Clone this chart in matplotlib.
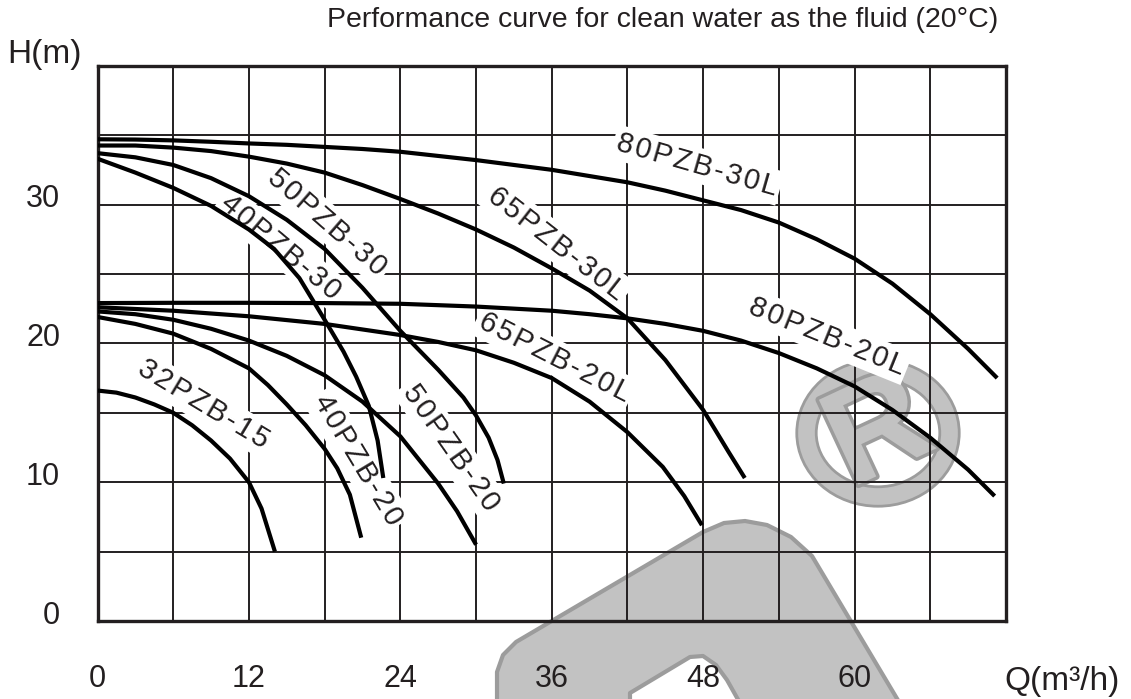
import matplotlib
matplotlib.use("Agg")
import matplotlib.pyplot as plt
import matplotlib.patheffects as pe
from matplotlib.patches import Ellipse, Polygon
from matplotlib.transforms import ScaledTranslation

plt.rcParams['font.family'] = ['Liberation Sans', 'DejaVu Sans']

# pump curves: Q in m3/h, H in m
q_32pzb_15 = [0, 1.5, 3, 4.5, 6, 7.5, 9, 10.5, 12, 13, 14.06]
h_32pzb_15 = [16.6, 16.45, 16.1, 15.6, 15.0, 14.1, 13.0, 11.7, 10.0, 8.1, 5.0]

q_40pzb_20 = [0, 3, 6, 9, 12, 13.5, 15, 16.5, 18, 19, 20, 20.9]
h_40pzb_20 = [21.9, 21.4, 20.7, 19.6, 18.2, 17.0, 15.6, 14.1, 12.4, 11.0, 9.1, 6.0]

q_50pzb_20 = [0, 3, 6, 9, 12, 15, 18, 21, 24, 27, 28.5, 30]
h_50pzb_20 = [22.3, 22.1, 21.7, 21.05, 20.2, 19.1, 17.7, 15.8, 13.3, 9.9, 7.9, 5.5]

q_65pzb_20l = [0, 6, 12, 18, 24, 27, 30, 33, 36, 39, 42, 44.8, 46.5, 47.9]
h_65pzb_20l = [22.6, 22.35, 21.95, 21.4, 20.6, 20.1, 19.5, 18.6, 17.5, 15.8, 13.6, 11.1, 9.0, 6.9]

q_80pzb_20l = [0, 6, 12, 18, 24, 27, 30, 33, 36, 39, 42, 45, 48, 51, 54, 57, 60, 63, 66, 69, 71.1]
h_80pzb_20l = [22.9, 22.92, 22.92, 22.9, 22.85, 22.75, 22.65, 22.5, 22.35, 22.1, 21.8, 21.4, 20.9,
               20.2, 19.3, 18.2, 16.9, 15.2, 13.2, 10.9, 9.0]

q_40pzb_30 = [0, 3, 6, 9, 12, 14, 16, 18, 19.5, 20.5, 21.5, 22.2, 22.65]
h_40pzb_30 = [33.3, 32.3, 31.2, 29.9, 28.2, 26.8, 24.7, 21.7, 19.4, 17.6, 15.5, 13.0, 10.3]

q_50pzb_30 = [0, 3, 6, 9, 12, 15, 18, 21, 24, 27, 29, 30, 31, 31.7, 32.2]
h_50pzb_30 = [33.7, 33.4, 32.85, 31.9, 30.6, 28.9, 26.8, 24.0, 20.9, 18.1, 16.1, 14.8, 13.2, 11.6, 9.9]

q_65pzb_30l = [0, 3, 6, 9, 12, 15, 18, 21, 24, 27, 30, 33, 36, 39, 42, 45, 48, 50, 51.3]
h_65pzb_30l = [34.25, 34.25, 34.1, 33.85, 33.45, 32.95, 32.3, 31.4, 30.4, 29.35, 28.2, 26.9,
               25.4, 23.8, 21.8, 18.8, 15.2, 12.2, 10.3]

q_80pzb_30l = [0, 3, 6, 9, 12, 15, 18, 21, 24, 27, 30, 33, 36, 39, 42, 45, 48, 51, 54, 57, 60,
               63, 66, 69, 71.3]
h_80pzb_30l = [34.7, 34.68, 34.62, 34.52, 34.4, 34.3, 34.15, 34.0, 33.8, 33.5, 33.2, 32.85, 32.5,
               32.05, 31.6, 31.0, 30.3, 29.6, 28.7, 27.5, 26.1, 24.3, 22.1, 19.6, 17.5]

# label text, position (Q, H) and angle on screen
curve_names = ['32PZB-15', '40PZB-20', '50PZB-20', '65PZB-20L', '80PZB-20L',
               '40PZB-30', '50PZB-30', '65PZB-30L', '80PZB-30L']
label_q = [8.4, 20.6, 28.0, 36.2, 57.8, 14.5, 18.2, 36.4, 47.5]
label_h = [15.6, 11.6, 12.5, 19.0, 20.5, 26.9, 28.7, 27.2, 32.85]
label_rot = [-31, -59, -55, -27, -22, -40, -41, -38, -16]

x_ticks = [0, 12, 24, 36, 48, 60]
y_ticks = [0, 10, 20, 30]

curves = [(q_32pzb_15, h_32pzb_15), (q_40pzb_20, h_40pzb_20), (q_50pzb_20, h_50pzb_20),
          (q_65pzb_20l, h_65pzb_20l), (q_80pzb_20l, h_80pzb_20l), (q_40pzb_30, h_40pzb_30),
          (q_50pzb_30, h_50pzb_30), (q_65pzb_30l, h_65pzb_30l), (q_80pzb_30l, h_80pzb_30l)]

ink = '#231f20'
W, H = 1131, 699
fig = plt.figure(figsize=(W / 100, H / 100), dpi=100)
fig.patch.set_facecolor('white')

def px(x, y):
    # figure pixel (from top-left) -> figure fraction
    return (x / W, 1 - y / H)

# grey watermarks behind the chart
wm_fill, wm_edge = '#c2c2c2', '#9c9c9c'
ring = Ellipse(px(878, 433), 143 / W, 127 / H, transform=fig.transFigure, fill=False,
               edgecolor=wm_fill, linewidth=12, zorder=-2,
               path_effects=[pe.Stroke(linewidth=16, foreground=wm_edge), pe.Normal()])
fig.add_artist(ring)
fig.text(*px(880, 436), 'R', fontsize=98, fontweight='bold', color=wm_fill, rotation=25,
         ha='center', va='center', zorder=-2,
         path_effects=[pe.Stroke(linewidth=5, foreground=wm_edge), pe.Normal()])
outer = [(497, 712), (497, 672), (503, 655), (516, 642), (703, 532), (724, 523), (745, 521),
         (767, 525), (791, 537), (812, 556), (905, 712)]
inner = [(630, 712), (630, 693), (690, 657), (703, 656), (716, 665), (727, 680), (745, 712)]
fig.add_artist(Polygon([px(*p) for p in outer], closed=True, transform=fig.transFigure,
                       facecolor=wm_fill, edgecolor=wm_edge, linewidth=3, joinstyle='round', zorder=-2))
fig.add_artist(Polygon([px(*p) for p in inner], closed=True, transform=fig.transFigure,
                       facecolor='white', edgecolor=wm_edge, linewidth=3, joinstyle='round', zorder=-2))

ax = fig.add_axes([97.5 / W, 1 - 621 / H, (1006 - 97.5) / W, (621 - 65.7) / H])
ax.patch.set_alpha(0)
ax.set_xlim(0, 72)
ax.set_ylim(0, 40)

ax.set_xticks(range(0, 73, 6))
ax.set_xticklabels([str(v) if v in x_ticks else '' for v in range(0, 73, 6)])
ax.set_yticks(range(0, 41, 5))
ax.set_yticklabels([str(v) if v in y_ticks else '' for v in range(0, 41, 5)])
ax.tick_params(length=0, labelsize=22, labelcolor=ink)
ax.tick_params(axis='x', pad=31)
ax.tick_params(axis='y', pad=27)
for lab in ax.get_yticklabels():
    lab.set_transform(lab.get_transform() + ScaledTranslation(0, 9 / 100, fig.dpi_scale_trans))

ax.set_axisbelow(True)
ax.grid(True, color=ink, linewidth=1.4)
for s in ax.spines.values():
    s.set_color(ink)
    s.set_linewidth(2.4)

for q, h in curves:
    ax.plot(q, h, color='black', linewidth=3.0, solid_capstyle='butt', solid_joinstyle='round', zorder=4)

for name, lq, lh, rot in zip(curve_names, label_q, label_h, label_rot):
    ax.text(lq, lh, '\u200a'.join(name), fontsize=21, color=ink, rotation=rot,
            rotation_mode='anchor', ha='center', va='center', zorder=3,
            bbox=dict(boxstyle='square,pad=0.12', facecolor='white', edgecolor='none'))

fig.text(*px(663, 20), 'Performance curve for clean water as the fluid (20\u00b0C)',
         fontsize=20.5, color=ink, ha='center', va='center')
fig.text(*px(45, 55), 'H(m)', fontsize=24, color=ink, ha='center', va='center')
fig.text(*px(1004, 681.7), 'Q(m\u00b3/h)', fontsize=24, color=ink, ha='left', va='center')

fig.savefig('out.png', dpi=100)
